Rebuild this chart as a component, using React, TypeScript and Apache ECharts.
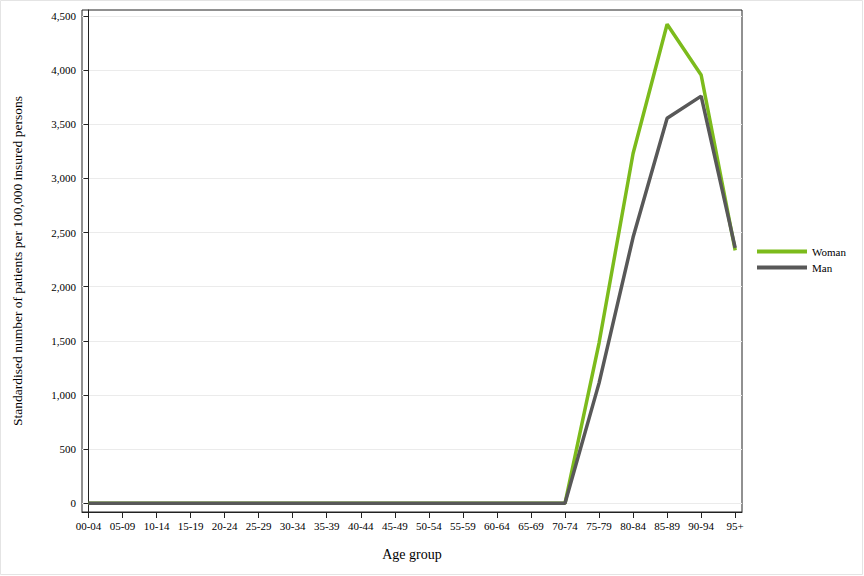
import React, { useEffect, useRef } from "react";
import * as echarts from "echarts";

const categories = ["00-04","05-09","10-14","15-19","20-24","25-29","30-34","35-39","40-44","45-49","50-54","55-59","60-64","65-69","70-74","75-79","80-84","85-89","90-94","95+"];
const woman = [0,0,0,0,0,0,0,0,0,0,0,0,0,0,0,1480,3230,4423,3955,2336];
const man = [0,0,0,0,0,0,0,0,0,0,0,0,0,0,0,1110,2456,3555,3760,2358];
const yTicks = [0,500,1000,1500,2000,2500,3000,3500,4000,4500];

const FONT = "Liberation Serif";

export default function App() {
  const ref = useRef<HTMLDivElement>(null);
  useEffect(() => {
    document.body.style.margin = "0";
    const chart = echarts.init(ref.current!, null, { renderer: "svg" });
    const idx = categories.map((_, i) => i);
    chart.setOption({
      animation: false,
      backgroundColor: "#fff",
      textStyle: { fontFamily: FONT },
      grid: { left: 82, right: 122, top: 10, bottom: 64, show: true, borderColor: "#222", borderWidth: 1 },
      legend: {
        orient: "vertical",
        left: 757,
        top: 246,
        padding: 0,
        itemWidth: 50,
        itemHeight: 4,
        itemGap: 5,
        icon: "rect",
        textStyle: { fontFamily: FONT, fontSize: 11, color: "#000" },
        data: ["Woman", "Man"],
      },
      xAxis: {
        type: "value",
        min: -0.19,
        max: 19.2,
        name: "Age group",
        nameLocation: "middle",
        nameGap: 35,
        nameTextStyle: { fontFamily: FONT, fontSize: 14, color: "#000" },
        axisLine: { show: true, onZero: false, lineStyle: { color: "#222" } },
        axisTick: { show: true, length: 6, customValues: idx, lineStyle: { color: "#222" } },
        axisLabel: {
          customValues: idx,
          formatter: (v: number) => categories[Math.round(v)] ?? "",
          fontFamily: FONT, fontSize: 11, color: "#000", margin: 8,
        },
        splitLine: { show: false },
      },
      yAxis: {
        type: "value",
        min: -80,
        max: 4555,
        name: "Standardised number of patients per 100,000 insured persons",
        nameLocation: "middle",
        nameGap: 58,
        nameTextStyle: { fontFamily: FONT, fontSize: 13.5, color: "#000" },
        axisLine: { show: true, lineStyle: { color: "#222" } },
        axisTick: { show: true, length: 5, customValues: yTicks, lineStyle: { color: "#222" } },
        axisLabel: {
          customValues: yTicks,
          formatter: (v: number) => v.toLocaleString("en-US"),
          fontFamily: FONT, fontSize: 11, color: "#000", margin: 6,
        },
        splitLine: { show: true, lineStyle: { color: "#ebebeb", width: 1 } },
      },
      series: [
        {
          name: "Woman",
          type: "line",
          data: woman.map((v, i) => [i, v]),
          symbol: "none",
          lineStyle: { color: "#7cbb1c", width: 3.5 },
          itemStyle: { color: "#7cbb1c" },
        },
        {
          name: "Man",
          type: "line",
          data: man.map((v, i) => [i, v]),
          symbol: "none",
          lineStyle: { color: "#585858", width: 3.5 },
          itemStyle: { color: "#585858" },
        },
      ],
      graphic: [
        { type: "rect", shape: { x: 0.5, y: 0.5, width: 862, height: 574 }, style: { fill: "none", stroke: "#e4e4e4", lineWidth: 1 }, silent: true },
      ],
    });
    return () => chart.dispose();
  }, []);
  return <div ref={ref} style={{ width: 864, height: 576 }} />;
}
